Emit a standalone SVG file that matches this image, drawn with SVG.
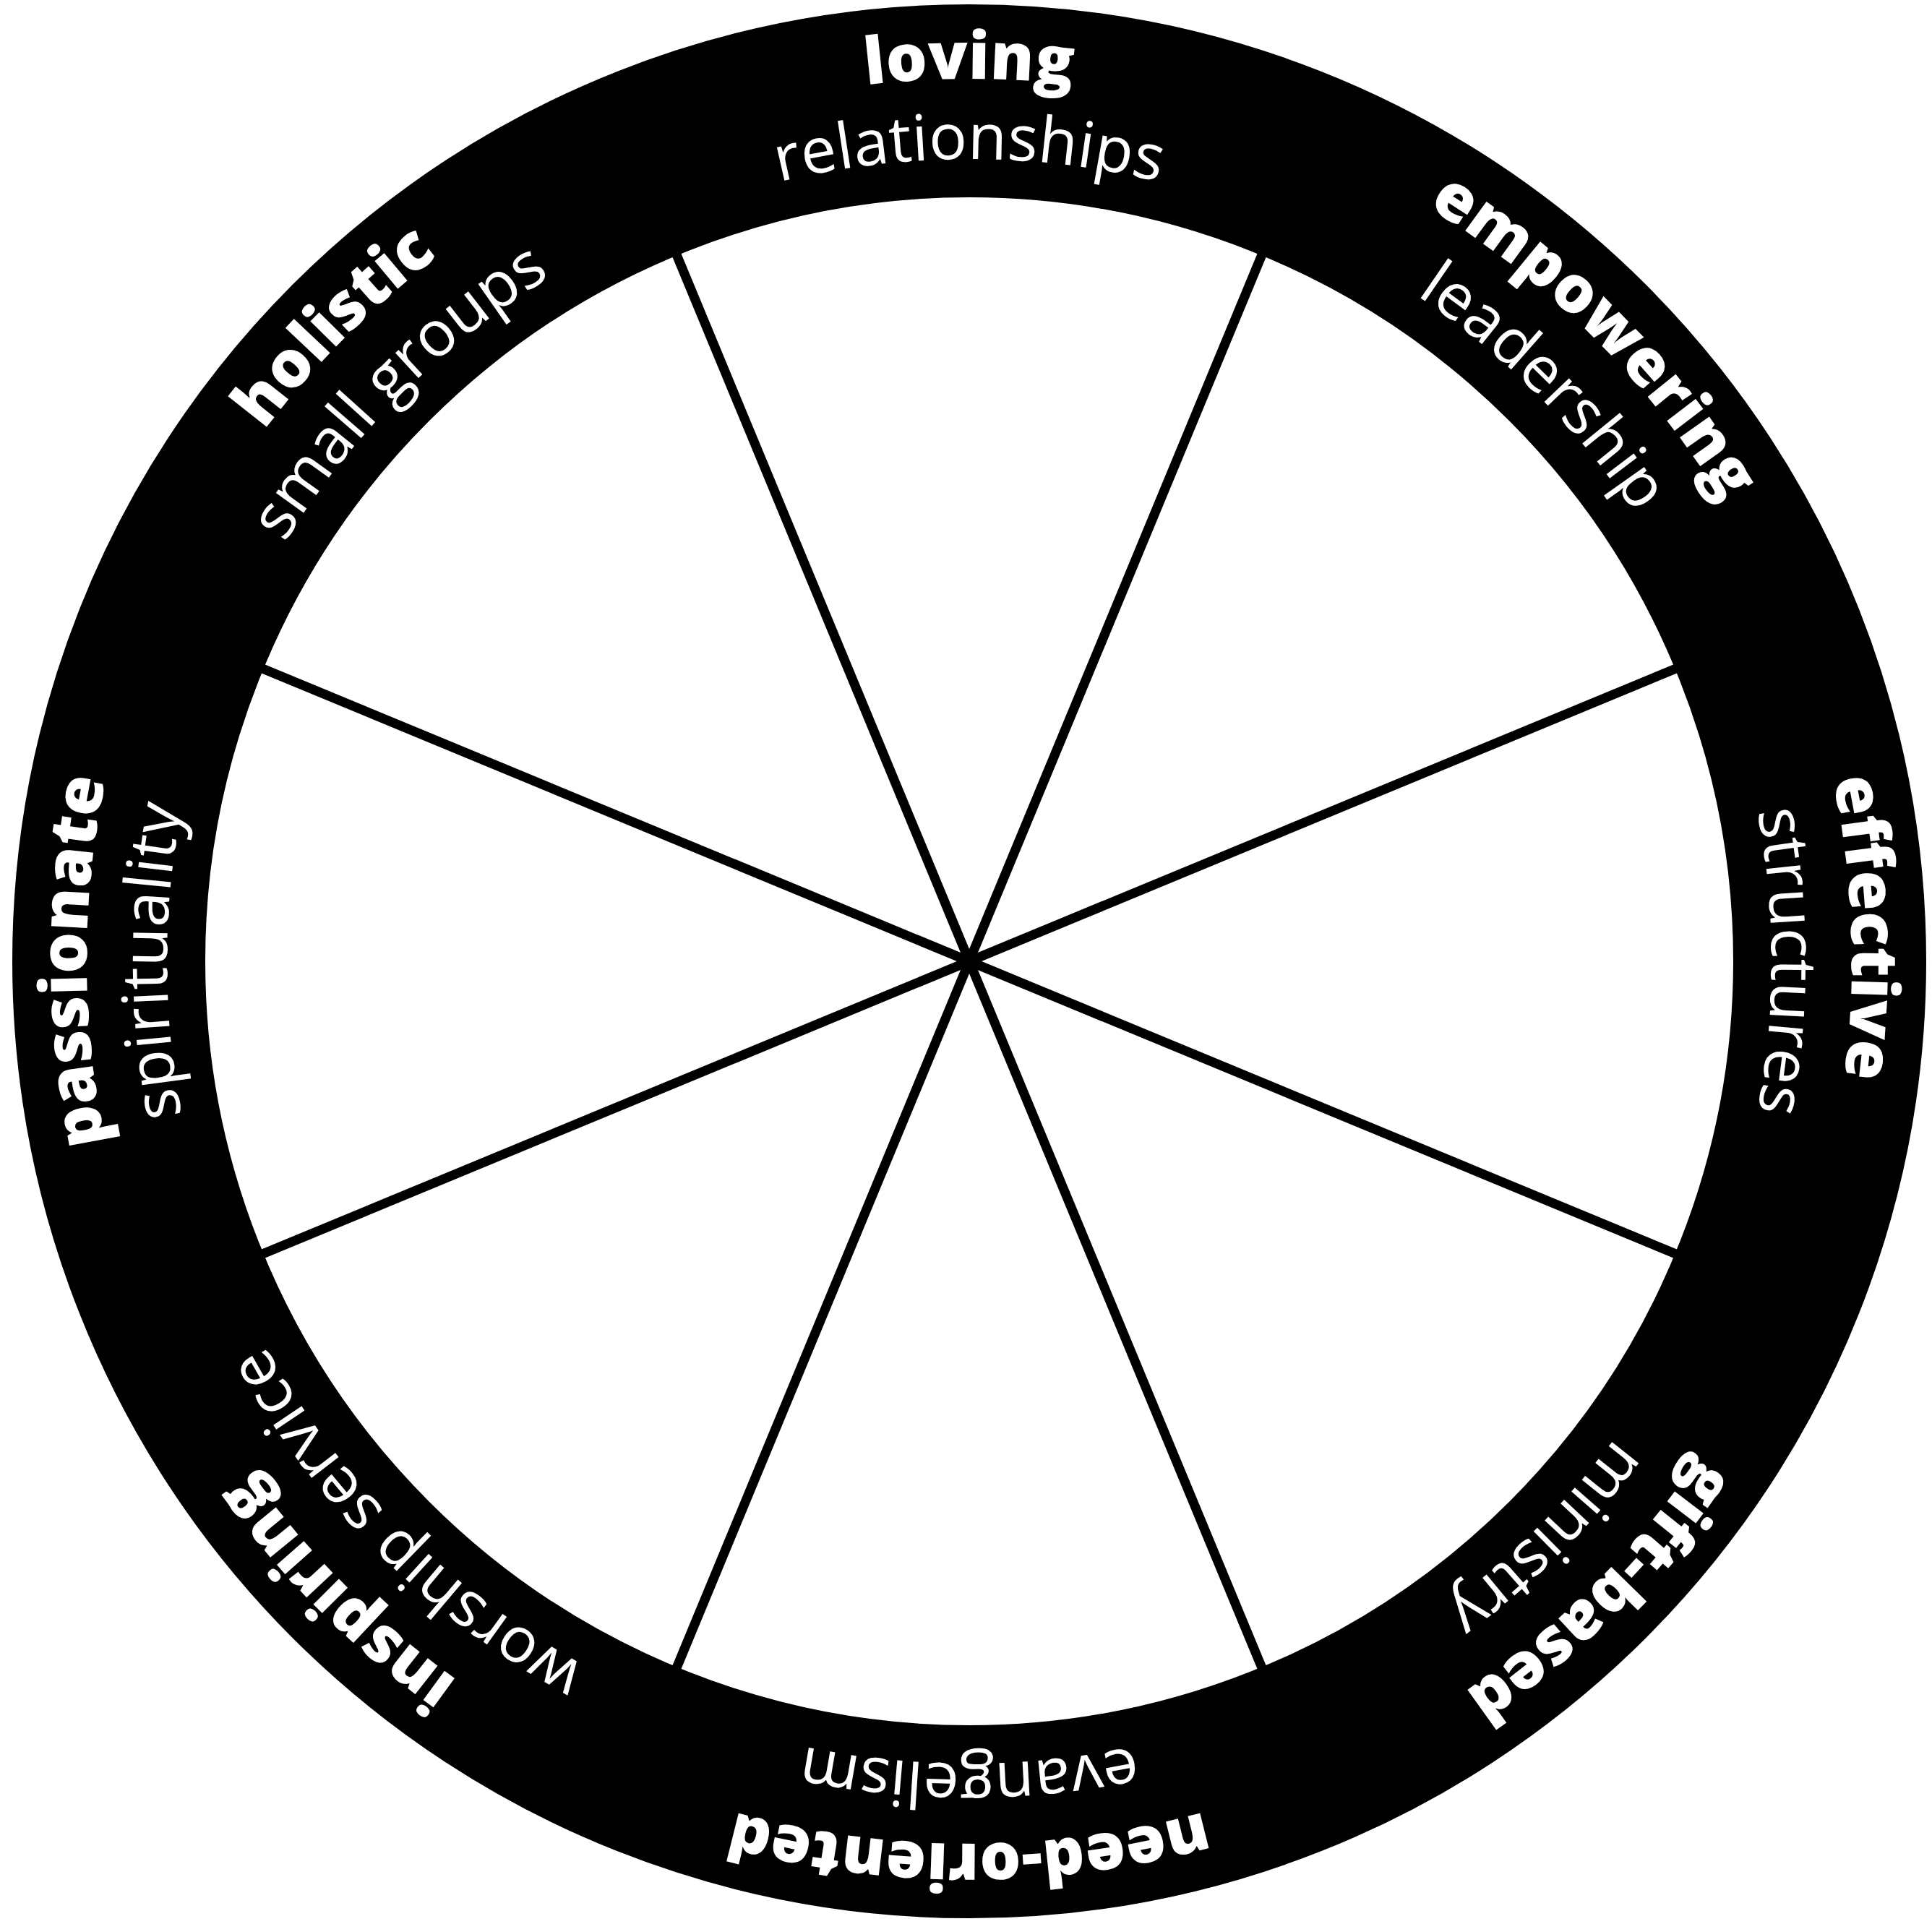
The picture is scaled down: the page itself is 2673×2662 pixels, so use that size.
<svg xmlns="http://www.w3.org/2000/svg" xmlns:xlink="http://www.w3.org/1999/xlink" width="2673" height="2662" viewBox="0 0 2673 2662">
  <style>
    .ring { fill: none; stroke: #000; stroke-width: 267; }
    .spoke { stroke: #000; stroke-width: 13; stroke-linecap: butt; }
    .b { font-family: "Open Sans", "Liberation Sans", sans-serif; font-weight: 800; font-size: 90px; fill: #fff; }
    .r { font-family: "Open Sans", "Liberation Sans", sans-serif; font-weight: 400; font-size: 88px; fill: #fff; }
  </style>
  <defs>
    <path id="arcB" d="M 1341 2551 A 1221 1221 0 1 1 1341 109 A 1221 1221 0 1 1 1341 2551"/>
    <path id="arcR" d="M 1341 2440 A 1110 1110 0 1 1 1341 220 A 1110 1110 0 1 1 1341 2440"/>
  </defs>
  <rect width="2673" height="2662" fill="#fff"/>
  <circle id="ring" class="ring" cx="1341" cy="1330" r="1190.5"/>
  <g id="spokes">
    <line class="spoke" x1="1754.3" y1="332.2" x2="927.7" y2="2327.8"/>
    <line class="spoke" x1="2338.8" y1="916.7" x2="343.2" y2="1743.3"/>
    <line class="spoke" x1="2338.8" y1="1743.3" x2="343.2" y2="916.7"/>
    <line class="spoke" x1="1754.3" y1="2327.8" x2="927.7" y2="332.2"/>
  </g>
  <g id="loving-relationships">
    <text class="b"><textPath xlink:href="#arcB" href="#arcB" startOffset="50%" text-anchor="middle">loving</textPath></text>
    <text class="r"><textPath xlink:href="#arcR" href="#arcR" startOffset="50%" text-anchor="middle">relationships</textPath></text>
  </g>
  <g id="empowering-leadership" transform="rotate(45 1341 1330)">
    <text class="b"><textPath xlink:href="#arcB" href="#arcB" startOffset="50%" text-anchor="middle">empowering</textPath></text>
    <text class="r"><textPath xlink:href="#arcR" href="#arcR" startOffset="50%" text-anchor="middle">leadership</textPath></text>
  </g>
  <g id="effective-structures" transform="rotate(90 1341 1330)">
    <text class="b"><textPath xlink:href="#arcB" href="#arcB" startOffset="49.4%" text-anchor="middle">effective</textPath></text>
    <text class="r"><textPath xlink:href="#arcR" href="#arcR" startOffset="50%" text-anchor="middle">structures</textPath></text>
  </g>
  <g id="gift-based-ministry" transform="rotate(135 1341 1330)">
    <text class="b"><textPath xlink:href="#arcB" href="#arcB" startOffset="50%" text-anchor="middle">gift-based</textPath></text>
    <text class="r"><textPath xlink:href="#arcR" href="#arcR" startOffset="50%" text-anchor="middle">ministry</textPath></text>
  </g>
  <g id="need-oriented-evangelism" transform="rotate(180 1341 1330)">
    <text class="b"><textPath xlink:href="#arcB" href="#arcB" startOffset="50%" text-anchor="middle">need-oriented</textPath></text>
    <text class="r"><textPath xlink:href="#arcR" href="#arcR" startOffset="50%" text-anchor="middle">evangelism</textPath></text>
  </g>
  <g id="inspiring-worship-service" transform="rotate(225 1341 1330)">
    <text class="b"><textPath xlink:href="#arcB" href="#arcB" startOffset="50%" text-anchor="middle">inspiring</textPath></text>
    <text class="r"><textPath xlink:href="#arcR" href="#arcR" startOffset="50%" text-anchor="middle">worship service</textPath></text>
  </g>
  <g id="passionate-spirituality" transform="rotate(270 1341 1330)">
    <text class="b"><textPath xlink:href="#arcB" href="#arcB" startOffset="50%" text-anchor="middle">passionate</textPath></text>
    <text class="r"><textPath xlink:href="#arcR" href="#arcR" startOffset="50%" text-anchor="middle">spirituality</textPath></text>
  </g>
  <g id="holistic-small-groups" transform="rotate(315 1341 1330)">
    <text class="b"><textPath xlink:href="#arcB" href="#arcB" startOffset="50%" text-anchor="middle">holistic</textPath></text>
    <text class="r"><textPath xlink:href="#arcR" href="#arcR" startOffset="50%" text-anchor="middle">small groups</textPath></text>
  </g>
</svg>
